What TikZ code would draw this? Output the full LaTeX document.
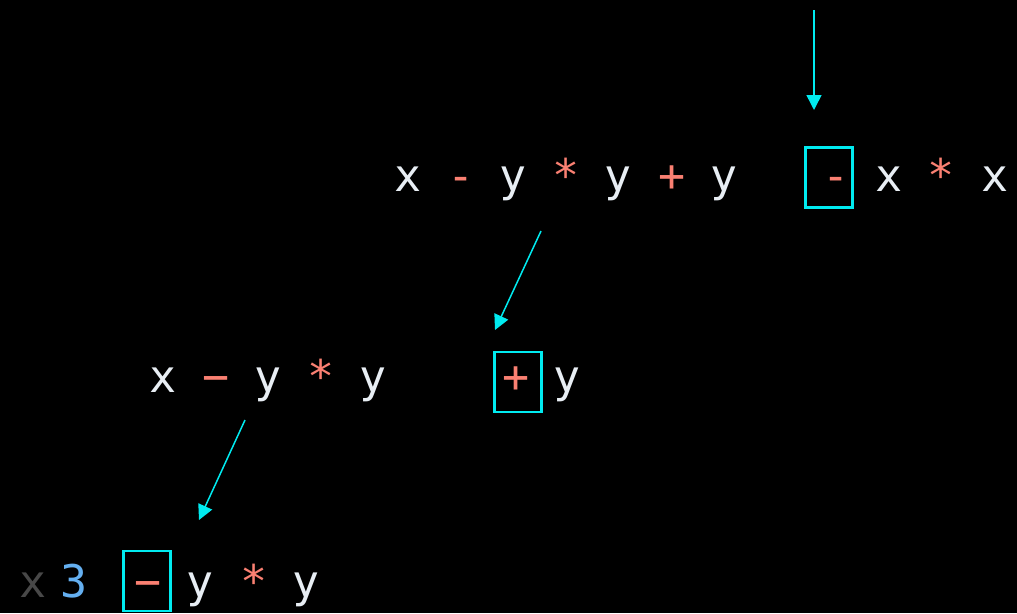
\documentclass[tikz,border=0pt]{standalone}
\usepackage{fontspec}
\setmainfont{DejaVu Sans Mono}
\usetikzlibrary{arrows.meta}
\definecolor{TokWhite}{RGB}{232,238,244}
\definecolor{TokRed}{RGB}{250,128,114}
\definecolor{TokGray}{RGB}{72,72,72}
\definecolor{TokBlue}{RGB}{100,175,240}
\definecolor{PtrCyan}{RGB}{0,235,240}
\tikzset{
  tok/.style={inner sep=0pt,anchor=base,text=TokWhite,
    font=\fontsize{45}{54}\selectfont},
  optok/.style={tok,text=TokRed},
  opbox/.style={draw=PtrCyan,line width=2.2pt,minimum width=47pt,
    minimum height=60pt,inner sep=0pt},
  ptr/.style={-{Triangle[length=15pt,width=15pt]},line width=1.5pt,PtrCyan}
}
\begin{document}
\begin{tikzpicture}[x=1pt,y=-1pt]
  \fill[black] (0,0) rectangle (1017,613);
  \useasboundingbox (0,0) rectangle (1017,613);
  % top row
  \node[tok] (ax) at (408,191) {x};
  \node[optok] (asub) at (461,191) {-};
  \node[tok] (ay1) at (513,191) {y};
  \node[optok] (amul) at (566,191) {*};
  \node[tok] (ay2) at (618,191) {y};
  \node[optok] (aadd) at (672,191) {+};
  \node[tok] (ay3) at (724,191) {y};
  \node[opbox] (abox) at (829,177.5) {};
  \node[optok] (aop) at (836,191) {-};
  \node[tok] (ax2) at (889,191) {x};
  \node[optok] (amul2) at (941,191) {*};
  \node[tok] (ax3) at (995,191) {x};
  % middle row
  \node[tok] (bx) at (163,392) {x};
  \node[optok] (bsub) at (216,392) {−};
  \node[tok] (by1) at (268,392) {y};
  \node[optok] (bmul) at (321,392) {*};
  \node[tok] (by2) at (373,392) {y};
  \node[opbox] (bbox) at (518,382) {};
  \node[optok] (bop) at (516,392) {+};
  \node[tok] (by3) at (567,392) {y};
  % bottom row
  \node[tok,text=TokGray] (cx) at (33,597) {x};
  \node[tok,text=TokBlue] (cnum) at (74,597) {3};
  \node[opbox] (cbox) at (147,581) {};
  \node[optok] (cop) at (148,597) {−};
  \node[tok] (cy1) at (200,597) {y};
  \node[optok] (cmul) at (254,597) {*};
  \node[tok] (cy2) at (306,597) {y};
  % pointers
  \coordinate (p1s) at (814,10);
  \coordinate (p1e) at (814,110);
  \coordinate (p2s) at (541,231);
  \coordinate (p2e) at (495,330);
  \coordinate (p3s) at (245,420);
  \coordinate (p3e) at (199,520);
  \draw[ptr] (p1s) -- (p1e);
  \draw[ptr] (p2s) -- (p2e);
  \draw[ptr] (p3s) -- (p3e);
\end{tikzpicture}
\end{document}
